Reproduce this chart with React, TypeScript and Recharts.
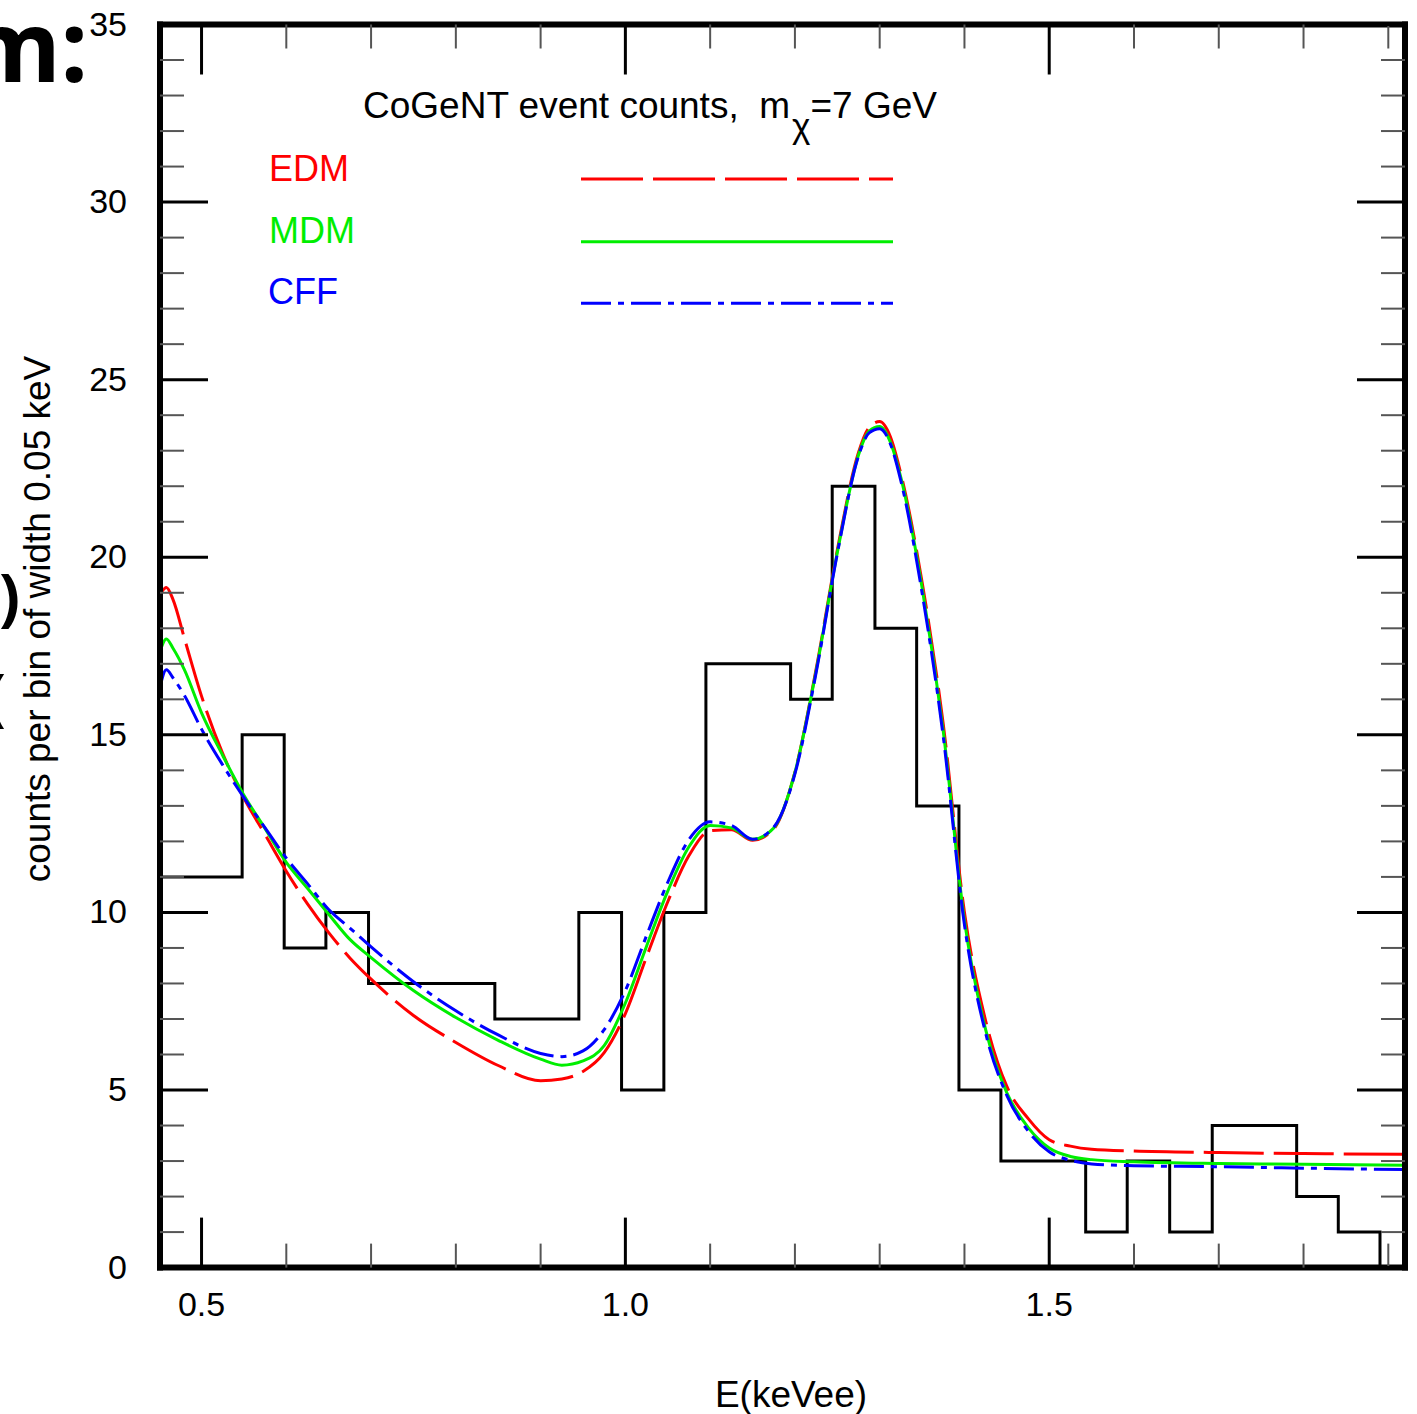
import React from "react";
import { LineChart, Line, XAxis, YAxis } from "recharts";

// curve sample points (keVee) and model counts per 0.05 keV bin
const energy = [
  0.451, 0.4585, 0.4665, 0.48, 0.5, 0.525, 0.55, 0.575, 0.6, 0.625, 0.65, 0.675, 0.7, 0.75, 0.8, 0.85,
  0.9, 0.925, 0.95, 0.975, 1.0, 1.025, 1.05, 1.075, 1.1, 1.125, 1.15, 1.175, 1.2, 1.225, 1.25, 1.275,
  1.2875, 1.3, 1.3125, 1.325, 1.35, 1.375, 1.4, 1.425, 1.45, 1.475, 1.5, 1.525, 1.55, 1.6, 1.7, 1.8, 1.9197,
];
const edm = [
  18.95, 19.15, 18.8, 17.7, 16.09, 14.47, 13.22, 12.19, 11.16, 10.24, 9.43, 8.72, 8.12, 7.1, 6.34, 5.69,
  5.26, 5.31, 5.52, 6.05, 7.15, 8.75, 10.3, 11.6, 12.3, 12.33, 12.03, 12.35, 13.95, 16.85, 20.2, 22.95,
  23.65, 23.82, 23.4, 22.35, 19.3, 15.3, 10.0, 6.95, 5.1, 4.2, 3.6, 3.42, 3.33, 3.28, 3.24, 3.21, 3.19,
];
const mdm = [
  17.35, 17.7, 17.43, 16.82, 15.62, 14.42, 13.3, 12.36, 11.41, 10.68, 9.95, 9.24, 8.73, 7.8, 7.04, 6.4,
  5.87, 5.7, 5.82, 6.25, 7.45, 9.05, 10.6, 11.85, 12.45, 12.38, 12.06, 12.38, 13.94, 16.8, 20.13, 22.88,
  23.55, 23.68, 23.25, 22.24, 19.15, 15.1, 9.77, 6.7, 4.92, 3.95, 3.37, 3.13, 3.04, 2.98, 2.93, 2.91, 2.88,
];
const cff = [
  16.35, 16.83, 16.6, 16.1, 15.16, 14.15, 13.23, 12.38, 11.53, 10.81, 10.08, 9.56, 9.03, 8.05, 7.23, 6.55,
  6.03, 5.94, 6.1, 6.7, 7.8, 9.35, 10.85, 12.05, 12.55, 12.45, 12.06, 12.4, 13.9, 16.75, 20.1, 22.85,
  23.5, 23.62, 23.2, 22.15, 19.0, 14.95, 9.65, 6.6, 4.85, 3.85, 3.26, 3.02, 2.92, 2.87, 2.84, 2.8, 2.76,
];

// histogram: left edge of each step and the count from there on
const binEdge = [
  0.451, 0.5479, 0.5975, 0.6467, 0.697, 0.846, 0.9451, 0.9955, 1.0454, 1.095, 1.1949, 1.244,
  1.2944, 1.3436, 1.3935, 1.443, 1.543, 1.592, 1.6421, 1.6923, 1.7919, 1.841, 1.8902, 1.9197,
];
const binCount = [11, 15, 9, 10, 8, 7, 10, 5, 10, 17, 16, 22, 18, 13, 5, 3, 1, 3, 1, 4, 2, 1, 0, 0];

const xMajor = [0.5, 1.0, 1.5];
const xTicks = [0.5, 0.6, 0.7, 0.8, 0.9, 1.0, 1.1, 1.2, 1.3, 1.4, 1.5, 1.6, 1.7, 1.8, 1.9];
const yMajor = [0, 5, 10, 15, 20, 25, 30, 35];
const yTicks = [
  0, 1, 2, 3, 4, 5, 6, 7, 8, 9, 10, 11, 12, 13, 14, 15, 16, 17, 18, 19, 20, 21, 22, 23, 24, 25, 26,
  27, 28, 29, 30, 31, 32, 33, 34, 35,
];

const W = 1417;
const H = 1414;
const FONT = "'Liberation Sans', Arial, Helvetica, sans-serif";
const RED = "#ff0000";
const GREEN = "#00ee00";
const BLUE = "#0000ff";
const RED_DASH = "60 10";
const BLUE_DASH = "30 7 6 7";

const curveRows = energy.map((e, i) => ({ e, edm: edm[i], mdm: mdm[i], cff: cff[i] }));
const histRows = binEdge.map((e, i) => ({ e, n: binCount[i] }));

const frame = { stroke: "#000", strokeWidth: 6, strokeLinecap: "square" as const };
const isMajor = (list: number[], v: number) => list.some((m) => Math.abs(m - v) < 1e-6);

function BottomTick({ x, y, payload }: any) {
  const major = isMajor(xMajor, payload.value);
  return (
    <g>
      <line x1={x} x2={x} y1={y} y2={y - (major ? 50 : 24)} stroke={major ? "#000" : "#555"} strokeWidth={major ? 3 : 2} />
      {major && (
        <text x={x} y={y + 48} textAnchor="middle" fontSize={34} fontFamily={FONT} fill="#000">
          {payload.value.toFixed(1)}
        </text>
      )}
    </g>
  );
}

function TopTick({ x, y, payload }: any) {
  const major = isMajor(xMajor, payload.value);
  return (
    <line x1={x} x2={x} y1={y} y2={y + (major ? 50 : 24)} stroke={major ? "#000" : "#555"} strokeWidth={major ? 3 : 2} />
  );
}

function LeftTick({ x, y, payload }: any) {
  const major = isMajor(yMajor, payload.value);
  return (
    <g>
      <line x1={x} x2={x + (major ? 48 : 24)} y1={y} y2={y} stroke={major ? "#000" : "#555"} strokeWidth={major ? 3 : 2} />
      {major && (
        <text x={x - 33} y={y + 11} textAnchor="end" fontSize={34} fontFamily={FONT} fill="#000">
          {payload.value}
        </text>
      )}
    </g>
  );
}

function RightTick({ x, y, payload }: any) {
  const major = isMajor(yMajor, payload.value);
  return (
    <line x1={x} x2={x - (major ? 48 : 24)} y1={y} y2={y} stroke={major ? "#000" : "#555"} strokeWidth={major ? 3 : 2} />
  );
}

export default function App() {
  return (
    <div style={{ position: "absolute", left: 0, top: 0, width: W, height: H, background: "#fff" }}>
      <LineChart width={W} height={H} margin={{ top: 14.5, right: 2, bottom: 86.4, left: 60 }}>
        <XAxis
          xAxisId="b"
          dataKey="e"
          type="number"
          domain={[0.451, 1.9197]}
          allowDataOverflow
          ticks={xTicks}
          interval={0}
          tickSize={0}
          tickMargin={0}
          tickLine={false}
          axisLine={frame}
          tick={(p: any) => <BottomTick {...p} />}
          height={60}
        />
        <XAxis
          xAxisId="t"
          orientation="top"
          dataKey="e"
          type="number"
          domain={[0.451, 1.9197]}
          allowDataOverflow
          ticks={xTicks}
          interval={0}
          tickSize={0}
          tickMargin={0}
          tickLine={false}
          axisLine={frame}
          tick={(p: any) => <TopTick {...p} />}
          height={10}
        />
        <YAxis
          yAxisId="l"
          type="number"
          domain={[0, 35]}
          allowDataOverflow
          ticks={yTicks}
          interval={0}
          tickSize={0}
          tickMargin={0}
          tickLine={false}
          axisLine={frame}
          tick={(p: any) => <LeftTick {...p} />}
          width={100}
        />
        <YAxis
          yAxisId="r"
          orientation="right"
          type="number"
          domain={[0, 35]}
          allowDataOverflow
          ticks={yTicks}
          interval={0}
          tickSize={0}
          tickMargin={0}
          tickLine={false}
          axisLine={frame}
          tick={(p: any) => <RightTick {...p} />}
          width={10}
        />
        <Line
          xAxisId="b"
          yAxisId="l"
          data={histRows}
          dataKey="n"
          type="stepAfter"
          stroke="#000"
          strokeWidth={3}
          dot={false}
          isAnimationActive={false}
        />
        <Line
          xAxisId="b"
          yAxisId="l"
          data={curveRows}
          dataKey="edm"
          type="monotone"
          stroke={RED}
          strokeWidth={3}
          strokeDasharray={RED_DASH}
          dot={false}
          isAnimationActive={false}
        />
        <Line
          xAxisId="b"
          yAxisId="l"
          data={curveRows}
          dataKey="mdm"
          type="monotone"
          stroke={GREEN}
          strokeWidth={3}
          dot={false}
          isAnimationActive={false}
        />
        <Line
          xAxisId="b"
          yAxisId="l"
          data={curveRows}
          dataKey="cff"
          type="monotone"
          stroke={BLUE}
          strokeWidth={3}
          strokeDasharray={BLUE_DASH}
          dot={false}
          isAnimationActive={false}
        />
      </LineChart>
      <svg
        width={W}
        height={H}
        style={{ position: "absolute", left: 0, top: 0, pointerEvents: "none" }}
        fontFamily={FONT}
      >
        {/* slide text peeking in behind the figure */}
        <text x={88} y={82} textAnchor="end" fontSize={98} fontWeight="bold" fontFamily="'Noto Sans', sans-serif" fill="#000">
          m:
        </text>
        <text x={-1} y={619} fontSize={62} fontWeight="bold" fontFamily="'Noto Sans', sans-serif" fill="#000">
          )
        </text>
        <text x={-15} y={719} fontSize={62} fontWeight="bold" fontFamily="'Noto Sans', sans-serif" fill="#000">
          (
        </text>

        <text x={363} y={118} fontSize={37} fill="#000" style={{ whiteSpace: "pre" }}>
          CoGeNT event counts,  m
          <tspan dx={2} dy={20} fontSize={35}>χ</tspan>
          <tspan dx={0} dy={-20}>=7 GeV</tspan>
        </text>

        <text x={269} y={181} fontSize={36} fill={RED}>EDM</text>
        <text x={269} y={243} fontSize={36} fill={GREEN}>MDM</text>
        <text x={268} y={304} fontSize={36} fill={BLUE}>CFF</text>
        <line x1={581} x2={893} y1={179} y2={179} stroke={RED} strokeWidth={3} strokeDasharray="62 10" />
        <line x1={581} x2={893} y1={241.7} y2={241.7} stroke={GREEN} strokeWidth={3} />
        <line x1={581} x2={893} y1={303.3} y2={303.3} stroke={BLUE} strokeWidth={3} strokeDasharray={BLUE_DASH} />

        <text x={791} y={1407} textAnchor="middle" fontSize={37} fill="#000">
          E(keVee)
        </text>
        <text x={50} y={619} textAnchor="middle" fontSize={37} fill="#000" transform="rotate(-90 50 619)">
          counts per bin of width 0.05 keV
        </text>
      </svg>
    </div>
  );
}
